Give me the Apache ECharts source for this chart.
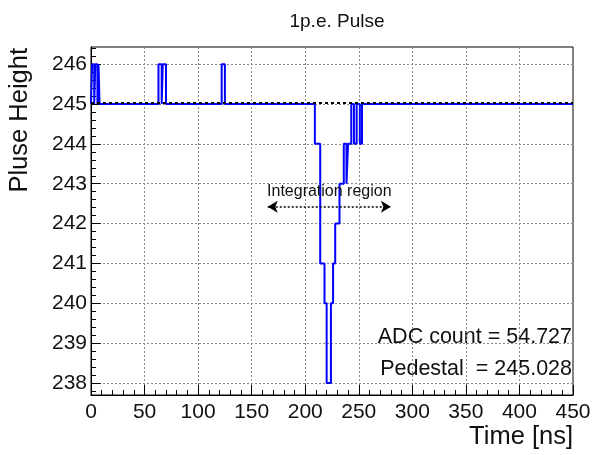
<!DOCTYPE html>
<html>
<head>
<meta charset="utf-8">
<script src="https://cdn.jsdelivr.net/npm/echarts@6/dist/echarts.min.js"></script>
<style>html,body{margin:0;padding:0;background:#fff;}#c{width:598px;height:455px;}</style>
</head>
<body>
<div id="c"></div>
<script>
// ---- data ----
var stepTimes  = [0, 1, 3, 4, 6, 7, 8, 63, 66, 67, 70, 122, 125, 209, 214, 218, 220, 224, 226, 228, 232, 236, 238.5, 240, 243, 245.5, 248, 251, 253, 450];
var stepValues = [245, 246, 245, 246, 245, 246, 245, 246, 245, 246, 245, 246, 245, 244, 241, 240, 238, 240, 241, 242, 243, 244, 243, 244, 245, 244, 245, 244, 245, 245];
var yTickLabels = [238, 239, 240, 241, 242, 243, 244, 245, 246];
var pedestal = 245.028;
var adcCount = 54.727;
var integrationRange = [165, 280];
var integrationLevel = 242.42;
var titleText = '1p.e. Pulse';
var xTitle = 'Time [ns]';
var yTitle = 'Pluse Height';

var yMin = 237.7, yMax = 246.43;
var yMinorTicks = [];
for (var v = 237.8; v < yMax; v += 0.2) { yMinorTicks.push(Math.round(v * 10) / 10); }

var seriesData = stepTimes.map(function (t, i) { return [t, stepValues[i]]; });
var FONT = '"Liberation Sans", Arial, Helvetica, sans-serif';

var chart = echarts.init(document.getElementById('c'), null, {renderer: 'canvas'});
chart.setOption({
  animation: false,
  backgroundColor: '#fff',
  grid: {left: 91, right: 25, top: 47, bottom: 60, show: true, borderColor: '#000', borderWidth: 1, backgroundColor: 'transparent'},
  title: {text: titleText, left: 332, textAlign: 'center', top: 7,
    textStyle: {fontFamily: FONT, fontSize: 19, fontWeight: 'normal', color: '#111'}},
  xAxis: {
    type: 'value', min: 0, max: 450, interval: 50,
    axisLine: {show: true, lineStyle: {color: '#000', width: 1}},
    axisTick: {show: true, inside: true, length: 10, lineStyle: {color: '#000'}},
    minorTick: {show: true, splitNumber: 5, length: 5, lineStyle: {color: '#000'}},
    axisLabel: {fontFamily: FONT, fontSize: 21, color: '#111', margin: 7},
    splitLine: {show: true, lineStyle: {color: '#888', type: [2, 2], width: 1}}
  },
  yAxis: [{
    type: 'value', min: yMin, max: yMax,
    axisLine: {show: true, lineStyle: {color: '#000', width: 1}},
    axisTick: {show: true, inside: true, length: 10, customValues: yTickLabels, lineStyle: {color: '#000'}},
    axisLabel: {fontFamily: FONT, fontSize: 21, color: '#111', margin: 4, customValues: yTickLabels},
    splitLine: {show: true, lineStyle: {color: '#888', type: [2, 2], width: 1}}
  }, {
    type: 'value', min: yMin, max: yMax, position: 'left',
    axisLine: {show: false},
    axisTick: {show: true, inside: true, length: 5, customValues: yMinorTicks, lineStyle: {color: '#000'}},
    axisLabel: {show: false},
    splitLine: {show: false}
  }],
  series: [{
    type: 'line', step: 'end', data: seriesData, yAxisIndex: 0,
    symbol: 'none', lineStyle: {color: '#0000ff', width: 2}, z: 3,
    markLine: {
      silent: true, animation: false, symbol: 'none',
      data: [
        [{coord: [integrationRange[0], integrationLevel], symbol: 'arrow', symbolSize: [9, 10]},
         {coord: [integrationRange[1], integrationLevel], symbol: 'arrow', symbolSize: [9, 10],
          lineStyle: {color: '#000', type: [2, 2], width: 1.5},
          label: {show: true, position: 'middle', formatter: 'Integration region', distance: 7,
            fontFamily: FONT, fontSize: 16, color: '#111'}}]
      ],
      lineStyle: {color: '#000', type: [2, 2], width: 1.5},
      itemStyle: {color: '#000'}
    }
  }, {
    type: 'line', data: [], yAxisIndex: 0, z: 10,
    markLine: {
      silent: true, animation: false, symbol: 'none', z: 10,
      data: [{yAxis: pedestal}],
      lineStyle: {color: '#000', type: [3, 3], width: 2},
      label: {show: false}
    }
  }],
  graphic: [
    {type: 'text', x: 572, y: 337, style: {text: 'ADC count = ' + adcCount.toFixed(3), font: '21.5px ' + FONT, fill: '#111', textAlign: 'right', textVerticalAlign: 'middle'}},
    {type: 'text', x: 572, y: 369, style: {text: 'Pedestal  = ' + pedestal.toFixed(3), font: '21.5px ' + FONT, fill: '#111', textAlign: 'right', textVerticalAlign: 'middle'}},
    {type: 'text', x: 573, y: 437, style: {text: xTitle, font: '25.5px ' + FONT, fill: '#111', textAlign: 'right', textVerticalAlign: 'middle'}},
    {type: 'text', x: 20, y: 48, rotation: Math.PI / 2, style: {text: yTitle, font: '25.5px ' + FONT, fill: '#111', textAlign: 'right', textVerticalAlign: 'middle'}}
  ]
});
</script>
</body>
</html>
